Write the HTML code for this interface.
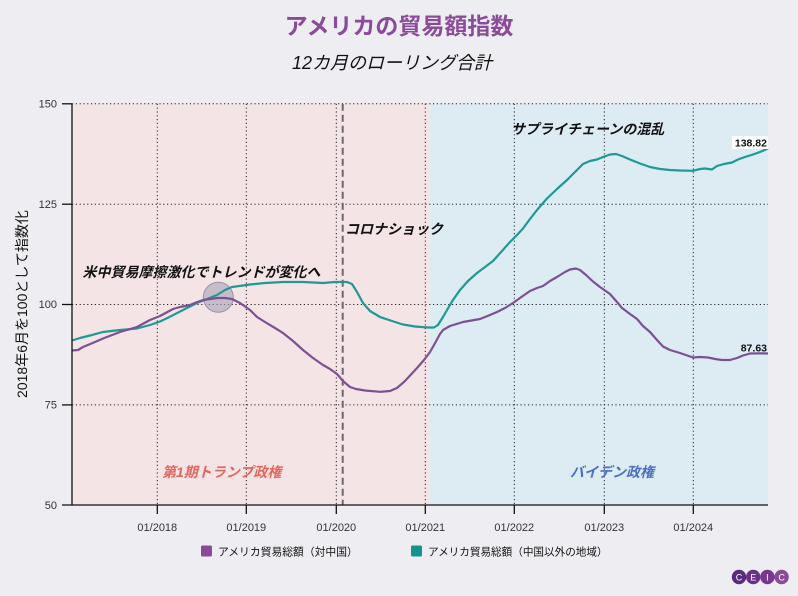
<!DOCTYPE html>
<html><head><meta charset="utf-8">
<style>
html,body{margin:0;padding:0;background:#eeedf2;}
svg{display:block;}
text{font-family:"Liberation Sans","Noto Sans CJK JP",sans-serif;}
</style></head>
<body>
<svg width="798" height="596" viewBox="0 0 798 596" xmlns="http://www.w3.org/2000/svg">
<rect x="0" y="0" width="798" height="596" fill="#eeedf2"/>
<!-- titles -->
<text x="399" y="34" text-anchor="middle" font-size="23" font-weight="bold" fill="#8a4b9a">アメリカの貿易額指数</text>
<text x="392" y="69" text-anchor="middle" font-size="18" font-style="italic" fill="#111">12カ月のローリング合計</text>

<!-- regions -->
<rect x="72" y="103.8" width="358" height="401.5" fill="#f5e4e6"/>
<rect x="430" y="103.8" width="338" height="401.5" fill="#ddebf3"/>

<!-- grid -->
<g stroke="#222" stroke-width="1" stroke-dasharray="1.2,2.6" fill="none">
<line x1="72" y1="103.8" x2="768" y2="103.8"/>
<line x1="72" y1="204.2" x2="768" y2="204.2"/>
<line x1="72" y1="304.5" x2="768" y2="304.5"/>
<line x1="72" y1="404.9" x2="768" y2="404.9"/>
<line x1="157.3" y1="103.8" x2="157.3" y2="505"/>
<line x1="246.3" y1="103.8" x2="246.3" y2="505"/>
<line x1="336.3" y1="103.8" x2="336.3" y2="505"/>
<line x1="425.3" y1="103.8" x2="425.3" y2="505"/>
<line x1="514.3" y1="103.8" x2="514.3" y2="505"/>
<line x1="604.3" y1="103.8" x2="604.3" y2="505"/>
<line x1="693.3" y1="103.8" x2="693.3" y2="505"/>
</g>

<!-- dashed covid line -->
<line x1="342.7" y1="103.8" x2="342.7" y2="505" stroke="#6e6570" stroke-width="2" stroke-dasharray="7,4"/>

<!-- annotation circle -->
<circle cx="218.3" cy="297.3" r="15" fill="#a9a1b8" fill-opacity="0.6" stroke="#9a92a8" stroke-width="1"/>

<!-- series -->
<polyline fill="none" stroke="#1e9994" stroke-width="2.2" stroke-linejoin="round" points="72,340.5 80,338 90,335.5 103,332 120,330 137,328.5 150,325 160,321.5 170,316.7 185,309 197,303 207,299 217,295 225,290 232,287 250,284.5 265,283 283,282 303,282 323,283 335,282 347,282 352,284 357,292 363,303 370,311 380,317 392,321 403,324.5 415,326.5 428,327.5 434,327.5 438,325 443,317 447,310 453,300 460,290 468,281 477,273 485,267 493,261 502,251 510,242 517,235 523,228.5 530,219 537,210 547,198.5 557,189 567,180 576,171 583,164 590,161 597,159.5 603,157 610,154.5 616,154 622,156 630,159.5 640,163.5 650,167 660,169 670,170 680,170.5 693,170.8 700,169 705,168.5 712,169.5 717,166 724,164 732,162.5 738,159.5 745,157 753,154.5 760,152 768,148.5"/>
<polyline fill="none" stroke="#7b5192" stroke-width="2.2" stroke-linejoin="round" points="72,350.5 78,350 83,347 95,342 103,338.5 120,332 137,327 150,320 160,316 173,309 180,307 190,305 196,302.5 203,300 210,299 218,298 225,298 232,299 240,303 250,310 257,317 265,322 275,328 283,333 293,341 303,350 313,358 323,365 330,369 337,374 343,381 350,387 356,389 365,390.5 380,391.8 390,391 397,388 405,381 417,368 424,360 430,352 434,345 440,334 443,330 450,326 463,322 480,319 490,315 497,312 505,308 513,303 520,298 530,291 537,288 543,286 550,281 557,277 565,272 570,269.5 576,268.5 580,270 586,275 593,281.5 600,287 610,294 617,302 622,308 630,314 637,319 643,326 650,332 657,340 663,346.5 670,350 680,353 693,357.5 700,357 708,357.5 715,359 722,360 730,360 737,358 743,355.5 750,353.5 760,353.3 768,353.5"/>

<!-- value labels -->
<rect x="732" y="136" width="36" height="13" fill="#ffffff"/>
<text x="767" y="146.5" text-anchor="end" font-size="10.5" font-weight="bold" fill="#111">138.82</text>
<rect x="737" y="341" width="31" height="13" fill="#ffffff" fill-opacity="0"/>
<text x="767" y="351.5" text-anchor="end" font-size="10.5" font-weight="bold" fill="#111">87.63</text>

<!-- annotations -->
<text x="82.5" y="277" font-size="14" font-weight="bold" font-style="italic" fill="#111">米中貿易摩擦激化でトレンドが変化へ</text>
<text x="345" y="234" font-size="14" font-weight="bold" font-style="italic" fill="#111">コロナショック</text>
<text x="511" y="134" font-size="14" font-weight="bold" font-style="italic" fill="#111">サプライチェーンの混乱</text>
<text x="162" y="477" font-size="14" font-weight="bold" font-style="italic" fill="#e5665e">第1期トランプ政権</text>
<text x="570" y="477" font-size="14" font-weight="bold" font-style="italic" fill="#4a6fc4">バイデン政権</text>

<!-- axes -->
<g stroke="#111" stroke-width="1.3">
<line x1="72" y1="103.8" x2="72" y2="505"/>
<line x1="62" y1="505" x2="768" y2="505"/>
<line x1="62" y1="103.8" x2="72" y2="103.8"/>
<line x1="62" y1="204.2" x2="72" y2="204.2"/>
<line x1="62" y1="304.5" x2="72" y2="304.5"/>
<line x1="62" y1="404.9" x2="72" y2="404.9"/>
<line x1="157.3" y1="505" x2="157.3" y2="514"/>
<line x1="246.3" y1="505" x2="246.3" y2="514"/>
<line x1="336.3" y1="505" x2="336.3" y2="514"/>
<line x1="425.3" y1="505" x2="425.3" y2="514"/>
<line x1="514.3" y1="505" x2="514.3" y2="514"/>
<line x1="604.3" y1="505" x2="604.3" y2="514"/>
<line x1="693.3" y1="505" x2="693.3" y2="514"/>
</g>
<g font-size="11" fill="#333" text-anchor="end">
<text x="57" y="107.5">150</text>
<text x="57" y="208">125</text>
<text x="57" y="308">100</text>
<text x="57" y="408.5">75</text>
<text x="57" y="509">50</text>
</g>
<g font-size="11" fill="#333" text-anchor="middle">
<text x="157.3" y="531">01/2018</text>
<text x="246.3" y="531">01/2019</text>
<text x="336.3" y="531">01/2020</text>
<text x="425.3" y="531">01/2021</text>
<text x="514.3" y="531">01/2022</text>
<text x="604.3" y="531">01/2023</text>
<text x="693.3" y="531">01/2024</text>
</g>
<text transform="translate(27,304) rotate(-90)" text-anchor="middle" font-size="14" fill="#111">2018年6月を100として指数化</text>

<!-- legend -->
<rect x="201" y="545.5" width="11" height="11" rx="1.5" fill="#8a4a98"/>
<text x="218" y="555.5" font-size="10.8" fill="#111">アメリカ貿易総額（対中国）</text>
<rect x="411" y="545.5" width="11" height="11" rx="1.5" fill="#17938f"/>
<text x="428" y="555.5" font-size="10.6" fill="#111">アメリカ貿易総額（中国以外の地域）</text>

<!-- CEIC logo -->
<g>
<circle cx="739" cy="577" r="7.2" fill="#5a2a7e"/>
<circle cx="753.2" cy="577" r="7.2" fill="#6a3189"/>
<circle cx="767.4" cy="577" r="7.2" fill="#77398f"/>
<circle cx="781.6" cy="577" r="7.2" fill="#8a4a9c"/>
<g font-size="9" fill="#ffffff" text-anchor="middle">
<text x="739" y="580.3">C</text>
<text x="753.2" y="580.3">E</text>
<text x="767.4" y="580.3">I</text>
<text x="781.6" y="580.3">C</text>
</g>
</g>
</svg>
</body></html>
